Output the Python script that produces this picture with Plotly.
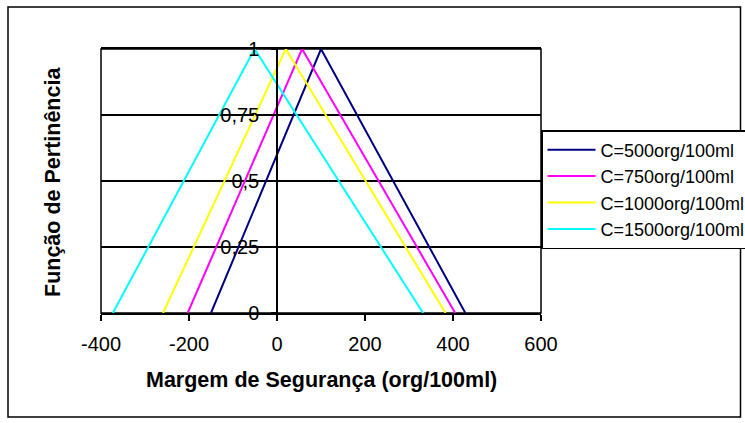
import plotly.graph_objects as go

# Triangular membership functions for each coliform concentration
series_names = ["C=500org/100ml", "C=750org/100ml", "C=1000org/100ml", "C=1500org/100ml"]
x_500 = [-150, 100, 428]
x_750 = [-203, 57, 405]
x_1000 = [-259, 20, 383]
x_1500 = [-373, -51, 332]
membership = [0, 1, 0]
colors = ["#000080", "#FF00FF", "#FFFF00", "#00FFFF"]

x_tickvals = [-400, -200, 0, 200, 400, 600]
x_ticktext = ["-400", "-200", "0", "200", "400", "600"]
y_tickvals = [0, 0.25, 0.5, 0.75, 1]
y_ticktext = ["0", "0,25", "0,5", "0,75", "1"]

W, H = 745, 423
L, R, T, B = 101, 204, 49, 110
PW, PH = W - L - R, H - T - B

def px_x(p):
    return (p - L) / PW

def px_y(p):
    return (H - B - p) / PH

FONT = "Liberation Sans, Arial, sans-serif"

fig = go.Figure()
for name, xs, col in zip(series_names, [x_500, x_750, x_1000, x_1500], colors):
    fig.add_trace(go.Scatter(x=xs, y=membership, mode="lines", name=name,
                             line=dict(color=col, width=2)))

fig.update_layout(
    width=W, height=H,
    margin=dict(l=L, r=R, t=T, b=B, autoexpand=False),
    paper_bgcolor="white", plot_bgcolor="white",
    font=dict(family=FONT, color="black", size=20),
    showlegend=True,
    legend=dict(x=1.0, xanchor="left", y=px_y(130), yanchor="top",
                bgcolor="white", bordercolor="black", borderwidth=1.5,
                font=dict(family=FONT, size=18, color="black"),
                itemwidth=48, tracegroupgap=0),
    xaxis=dict(range=[-400, 600], tickvals=x_tickvals, ticktext=x_ticktext,
               showgrid=False, zeroline=False, showline=True, linecolor="black",
               linewidth=1.5, mirror=True, ticks="outside", ticklen=6,
               tickcolor="black", tickwidth=1.5, ticklabelstandoff=6,
               tickfont=dict(size=20)),
    yaxis=dict(range=[0, 1], tickvals=y_tickvals, ticktext=y_ticktext,
               anchor="free", position=0.4, showgrid=True, gridcolor="black",
               gridwidth=1.5, zeroline=False, showline=True, linecolor="black",
               linewidth=1.5, ticks="outside", ticklen=5, tickcolor="black",
               tickwidth=1.5, ticklabelstandoff=8, tickfont=dict(size=20)),
    shapes=[
        # plot area frame
        dict(type="rect", xref="paper", yref="paper", x0=0, x1=1, y0=0, y1=1,
             line=dict(color="black", width=1.5), layer="below"),
        # chart area border
        dict(type="rect", xref="paper", yref="paper",
             x0=px_x(8), x1=px_x(740.5), y0=px_y(417), y1=px_y(7),
             line=dict(color="black", width=1.5), layer="below"),
    ],
    annotations=[
        dict(text="<b>Margem de Segurança (org/100ml)</b>", xref="paper", yref="paper",
             x=0.5, y=px_y(380), xanchor="center", yanchor="middle",
             showarrow=False, font=dict(family=FONT, size=21.5, color="black")),
        dict(text="<b>Função de Pertinência</b>", xref="paper", yref="paper",
             x=px_x(53), y=px_y(182), xanchor="center", yanchor="middle",
             textangle=-90, showarrow=False,
             font=dict(family=FONT, size=21.5, color="black")),
    ],
)

fig.write_html("out.html")
